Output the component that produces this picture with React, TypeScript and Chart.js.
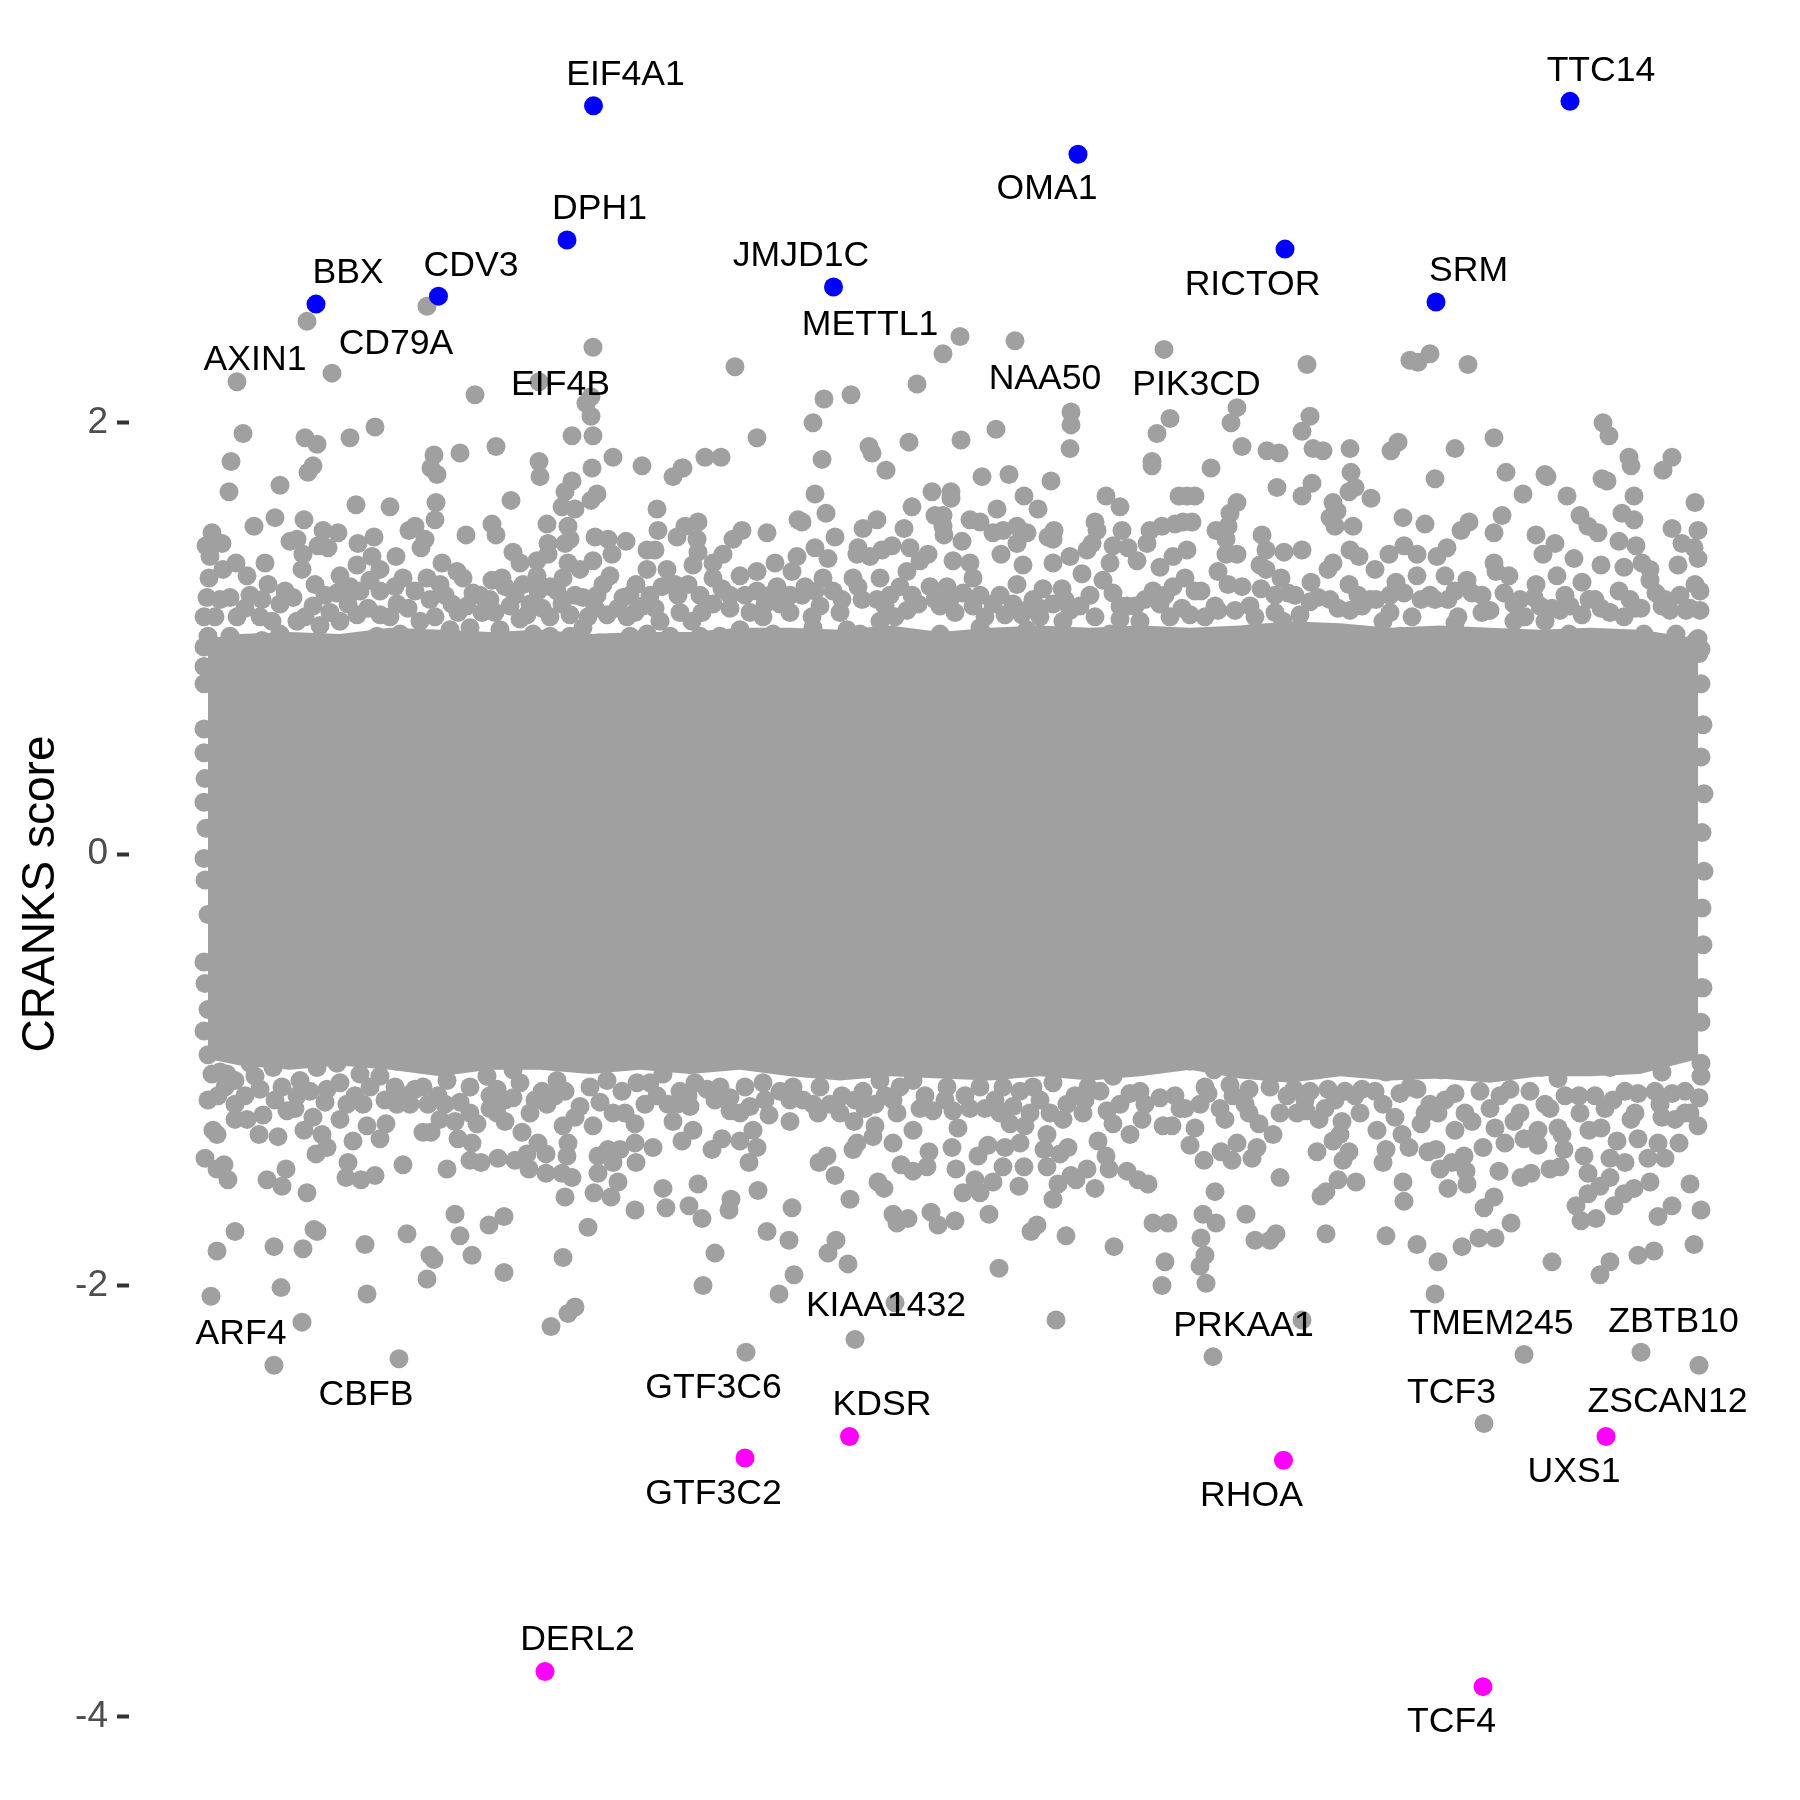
import React, { useEffect, useRef } from "react";
import { Chart, registerables } from "chart.js";

Chart.register(...registerables);

// Highlighted genes (rank on the unlabelled x axis, CRANKS score)
const upGenes = ["EIF4A1", "TTC14", "OMA1", "DPH1", "RICTOR", "JMJD1C", "SRM", "BBX", "CDV3"];
const upRank = [403.5, 1380, 888, 377, 1095, 643.5, 1246, 126, 248.5];
const upScore = [3.47, 3.49, 3.245, 2.847, 2.805, 2.629, 2.56, 2.55, 2.587];
const downGenes = ["KDSR", "GTF3C2", "RHOA", "UXS1", "DERL2", "TCF4"];
const downRank = [659.5, 555, 1093.5, 1416, 355, 1293];
const downScore = [-2.7, -2.8, -2.81, -2.7, -3.79, -3.86];

// The solid centre of the cloud: upper and lower envelope
const bandRank = [18,50,100,150,200,250,300,350,400,450,500,550,600,650,700,750,800,850,900,950,1000,1050,1100,1150,1200,1250,1300,1350,1400,1450,1508];
const bandTop = [1,1.02,1.03,1.02,1.05,1.04,1.03,1.04,1.02,1.03,1.03,1.05,1.05,1.04,1.06,1.03,1.05,1.06,1.05,1.06,1.05,1.06,1.08,1.07,1.05,1.06,1.05,1.04,1.05,1.04,1];
const bandBottom = [-.95,-.98,-1,-.98,-1,-1.03,-1,-1,-1.02,-1,-1.02,-1,-1.03,-1.05,-1.03,-1.04,-1.05,-1.03,-1.05,-1.03,-1,-1.04,-1.06,-1.03,-1.05,-1.04,-1.06,-1.03,-1.03,-1.02,-.95];

// Individually readable grey genes: [rank, score]
const edgeGenes = [
  [14,.87],[14,.79],[14,.58],[14,.47],[15,.35],[14,.24],[16,.12],[14,-.02],[15,-.12],[18,-.28],[14,-.5],[15,-.6],[18,-.72],[14,-.82],[14,.96],
  [1511,.95],[1508,1],[1511,.79],[1513,.6],[1511,.45],[1514,.28],[1512,.1],[1514,-.08],[1512,-.25],[1513,-.42],[1511,-.62],[1294,-2.64],
];
const upperRim = [
  [25,1.1],[55,1.14],[82,1.08],[115,1.1],[135,1.2],[158,1.16],[178,1.14],[200,1.1],[218,1.14],[245,1.1],[255,1.2],[268,1.12],[292,1.12],[330,1.09],[352,1.14],[372,1.16],[398,1.1],[428,1.14],[445,1.12],[465,1.14],[490,1.12],[488,1.2],[512,1.12],[540,1.14],[560,1.12],[580,1.2],[600,1.12],[612,1.2],[622,1.1],[650,1.12],[672,1.18],[700,1.2],[705,1.1],[728,1.16],[750,1.15],[765,1.12],[795,1.1],[815,1.11],[832,1.11],[850,1.1],[880,1.13],[905,1.1],[930,1.09],[945,1.15],[970,1.16],[992,1.14],[1015,1.1],[1045,1.13],[1065,1.1],[1085,1.12],[1110,1.11],[1148,1.14],[1172,1.15],[1200,1.12],[1222,1.1],[1245,1.18],[1268,1.1],[1292,1.12],[1335,1.1],[1362,1.14],[1380,1.15],[1420,1.12],[1445,1.14],[1480,1.13],[1500,1.14],
  [30,1.18],[72,1.18],[95,1.22],[125,1.25],[140,1.12],[160,1.24],[180,1.27],[205,1.24],[225,1.22],[250,1.25],[262,1.16],[290,1.2],[305,1.12],[325,1.2],[340,1.16],[360,1.24],[385,1.2],[405,1.14],[440,1.2],[460,1.2],[485,1.25],[510,1.2],[540,1.2],[555,1.2],[575,1.16],[600,1.2],[625,1.22],[652,1.18],[668,1.24],[695,1.15],[722,1.2],[745,1.18],[760,1.18],[790,1.2],[810,1.2],[835,1.13],[850,1.14],[875,1.18],[900,1.2],[930,1.15],[955,1.18],[975,1.2],[1005,1.22],[1025,1.15],[1060,1.15],[1085,1.2],[1105,1.2],[1120,1.17],[1140,1.18],[1168,1.2],[1180,1.18],[1200,1.2],[1240,1.2],[1265,1.22],[1292,1.2],[1330,1.18],[1350,1.15],[1375,1.2],[1405,1.18],[1440,1.18],[1475,1.18],[1490,1.2],[1505,1.25],
];
const lowerRim = [
  [22,-1.02],[45,-1.05],[65,-1.03],[92,-1.08],[120,-1.1],[150,-1.06],[180,-1.08],[205,-1.08],[225,-1.09],[248,-1.12],[280,-1.08],[300,-1.12],[330,-1.06],[352,-1.1],[375,-1.1],[400,-1.08],[432,-1.1],[460,-1.06],[490,-1.1],[505,-1.06],[530,-1.08],[555,-1.08],[590,-1.1],[630,-1.08],[665,-1.14],[685,-1.16],[710,-1.08],[735,-1.12],[775,-1.12],[805,-1.14],[830,-1.1],[850,-1.14],[885,-1.12],[910,-1.1],[950,-1.1],[1015,-1.08],[1040,-1.07],[1080,-1.08],[1120,-1.1],[1155,-1.1],[1185,-1.1],[1220,-1.08],[1240,-1.16],[1290,-1.1],[1310,-1.12],[1340,-1.1],[1375,-1.12],[1405,-1.12],[1435,-1.1],[1465,-1.1],[1495,-1.1],[1500,-1.2],
  [28,-1.12],[55,-1.12],[85,-1.14],[105,-1.18],[135,-1.15],[165,-1.12],[195,-1.14],[215,-1.12],[255,-1.16],[280,-1.2],[300,-1.18],[315,-1.14],[345,-1.14],[365,-1.12],[385,-1.22],[410,-1.15],[435,-1.2],[455,-1.16],[478,-1.16],[498,-1.12],[525,-1.14],[550,-1.2],[575,-1.14],[600,-1.14],[628,-1.2],[650,-1.2],[675,-1.18],[695,-1.12],[730,-1.18],[755,-1.14],[780,-1.18],[810,-1.2],[840,-1.2],[860,-1.2],[895,-1.14],[930,-1.16],[955,-1.16],[985,-1.12],[1010,-1.16],[1030,-1.18],[1055,-1.16],[1090,-1.2],[1115,-1.14],[1135,-1.18],[1170,-1.2],[1205,-1.22],[1235,-1.2],[1255,-1.14],[1275,-1.2],[1300,-1.18],[1330,-1.2],[1360,-1.18],[1390,-1.2],[1415,-1.18],[1445,-1.2],[1470,-1.16],[1495,-1.2],
];
const upperLeft = [
  [117,2.47],[237,2.54],[47,2.19],[142,2.23],[285,2.13],[403,2.35],[349,2.19],[401,2.12],[396,2.09],[401,2.03],[382,1.94],[403,1.94],[53,1.95],[115,1.93],[127,1.9],[160,1.93],[185,1.98],[41,1.82],[123,1.8],[118,1.77],[244,1.85],[241,1.79],[247,1.76],[270,1.86],[306,1.89],[349,1.82],[350,1.75],[423,1.84],[402,1.79],[452,1.8],[483,1.75],[493,1.79],[39,1.68],[90,1.71],[166,1.62],[200,1.61],[246,1.63],[245,1.55],[321,1.64],[382,1.73],[375,1.68],[372,1.61],[385,1.6],[407,1.67],[401,1.64],[467,1.6],[468,1.5],[487,1.47],[64,1.52],[85,1.56],[114,1.55],[22,1.49],[16,1.43],[32,1.44],[20,1.38],[100,1.45],[107,1.46],[133,1.5],[148,1.49],[128,1.43],[138,1.42],[168,1.44],[184,1.47],[219,1.5],[225,1.52],[235,1.46],[231,1.42],[276,1.48],[302,1.53],[306,1.48],[357,1.53],[378,1.52],[380,1.46],[358,1.44],[375,1.44],[405,1.47],[418,1.46],[436,1.45],[422,1.39],[457,1.41],[465,1.41],[113,1.39],[182,1.38],[206,1.38],[323,1.4],[330,1.35],[347,1.36],[358,1.39],[378,1.35],[403,1.36],[46,1.35],[33,1.32],[75,1.35],[252,1.35],[19,1.28],[57,1.29],[112,1.32],[78,1.25],[150,1.29],[167,1.34],[190,1.32],[213,1.28],[237,1.28],[267,1.31],[273,1.28],[302,1.27],[312,1.28],[315,1.24],[333,1.25],[348,1.22],[347,1.29],[367,1.22],[373,1.28],[390,1.32],[420,1.29],[413,1.25],[393,1.19],[407,1.2],[433,1.19],[446,1.25],[457,1.32],[477,1.32],[453,1.15],[472,1.24],
  [17,1.19],[14,1.1],[18,1.01],[40,1.19],[60,1.2],[47,1.1],[70,1.1],[40,1.01],[90,1.16],[103,1.19],[107,1.08],[90,1.02],[72,.99],[123,1.15],[130,1.06],[120,.96],[147,1.21],[170,1.22],[190,1.22],[167,1.11],[150,1.08],[190,1.11],[207,1.16],[187,1.01],[210,1.02],[230,1.08],[240,1.18],[260,1.04],[277,1.15],[283,1.21],[280,1.05],[300,1.18],[320,1.15],[337,1.11],[310,1.04],[343,1.02],[360,1.1],[380,1.11],[360,1.01],[380,1.01],[417,1.11],[437,1.1],[410,.98],[393,1.05],[420,.98],[440,1.01],[470,1.08],[457,1.02],[480,1.01],
];
const upperMiddle = [
  [545,2.26],[770,2.4],[753,2.32],[727,2.18],[825,2.38],[974,2.34],[634,2.11],[661,2.13],[881,2.05],[881,1.99],[880,1.88],[980,2.02],[967,1.95],[962,1.82],[962,1.8],[623,2],[567,1.93],[632,1.83],[679,1.89],[682,1.86],[696,1.78],[719,1.91],[771,1.92],[806,1.97],[792,1.75],[819,1.76],[861,1.73],[515,1.84],[531,1.84],[492,1.79],[625,1.67],[636,1.58],[742,1.68],[761,1.68],[761,1.65],[722,1.61],[834,1.66],[848,1.6],[807,1.6],[916,1.66],[930,1.61],[989,1.66],[508,1.54],[495,1.52],[552,1.5],[543,1.46],[577,1.49],[608,1.55],[612,1.54],[687,1.55],[673,1.51],[714,1.51],[745,1.57],[753,1.57],[753,1.52],[754,1.48],[780,1.55],[790,1.54],[772,1.45],[803,1.49],[813,1.5],[827,1.52],[837,1.49],[827,1.44],[864,1.5],[858,1.47],[863,1.46],[905,1.54],[907,1.5],[902,1.44],[932,1.5],[923,1.43],[938,1.42],[960,1.5],[972,1.52],[985,1.53],[957,1.44],[947,1.36],[920,1.35],[970,1.33],[983,1.38],[507,1.46],[508,1.4],[503,1.34],[523,1.35],[533,1.39],[567,1.31],[585,1.35],[607,1.38],[625,1.42],[645,1.47],[638,1.37],[615,1.24],[602,1.31],[668,1.42],[667,1.39],[680,1.38],[692,1.41],[702,1.43],[720,1.42],[738,1.39],[730,1.36],[763,1.36],[780,1.35],[783,1.28],[811,1.39],[833,1.34],[863,1.35],[880,1.38],[892,1.3],[897,1.41],[913,1.27],[827,1.25],[853,1.23],[872,1.23],[523,1.28],[532,1.23],[498,1.25],[523,1.16],[550,1.29],[567,1.22],[587,1.24],[590,1.16],[573,1.1],[633,1.28],[643,1.22],[630,1.15],[663,1.28],[690,1.28],[687,1.18],[690,1.08],[710,1.24],[717,1.31],[717,1.13],[740,1.24],[757,1.24],[773,1.21],[783,1.15],[803,1.16],[823,1.16],[843,1.18],[863,1.16],[890,1.15],[923,1.21],[937,1.15],[963,1.22],[983,1.24],[980,1.1],[502,1.08],[510,1.01],[530,1.01],[550,1.04],[583,1.02],[623,1.05],[657,1.04],[670,1.02],[697,.96],[750,1.02],[790,1.05],[837,1.04],[873,1.08],[920,1.02],[950,1.08],[963,.99],
];
const upperRight = [
  [1117,2.27],[1220,2.29],[1228,2.28],[1240,2.32],[1278,2.27],[1047,2.07],[1041,2],[1120,2.03],[1112,1.96],[1052,1.89],[1123,1.88],[1133,1.87],[1160,1.88],[1077,1.87],[1089,1.86],[1021,1.79],[1208,1.91],[1201,1.87],[1265,1.88],[1304,1.93],[1413,2],[1419,1.94],[1439,1.84],[1441,1.8],[1482,1.84],[1473,1.78],[1245,1.74],[1316,1.77],[1355,1.76],[1357,1.75],[1412,1.74],[1417,1.73],[1444,1.66],[1505,1.63],[1377,1.66],[1333,1.67],[1087,1.7],[1122,1.72],[1112,1.66],[1161,1.77],[1165,1.7],[1159,1.68],[1181,1.65],[1143,1.63],[1147,1.59],[997,1.66],[1005,1.66],[1047,1.63],[1040,1.58],[1002,1.54],[993,1.54],[1140,1.56],[1145,1.52],[1163,1.52],[1213,1.56],[1235,1.53],[1279,1.54],[1271,1.5],[1312,1.57],[1304,1.49],[1390,1.57],[1398,1.52],[1408,1.49],[1432,1.58],[1444,1.55],[1482,1.51],[1508,1.5],[1346,1.48],[1365,1.44],[1353,1.39],[1384,1.37],[1429,1.45],[1446,1.43],[1492,1.44],[1504,1.42],[1508,1.37],[1488,1.34],[1026,1.5],[1038,1.52],[1036,1.46],[1072,1.48],[1076,1.41],[1094,1.4],[1112,1.41],[1047,1.39],[1036,1.39],[997,1.41],[1070,1.34],[1076,1.32],[1091,1.28],[1028,1.31],[995,1.28],[1160,1.41],[1143,1.35],[1138,1.32],[1169,1.38],[1185,1.32],[1199,1.39],[1214,1.43],[1227,1.39],[1257,1.42],[1247,1.38],[1227,1.29],[1206,1.26],[1255,1.29],[1277,1.27],[1304,1.35],[1306,1.31],[1319,1.29],[1411,1.34],[1434,1.33],[1452,1.35],[1460,1.32],[1367,1.29],[1346,1.25],[1392,1.26],[1460,1.27],[1429,1.22],[1510,1.22],[1466,1.21],[1370,1.13],[1121,1.26],[1159,1.25],[1186,1.18],[1193,1.08],[1011,1.22],[1038,1.25],[1052,1.24],[1071,1.23],[1098,1.21],[1128,1.19],[1160,1.13],[1214,1.21],[1231,1.18],[1258,1.18],[1282,1.21],[1300,1.13],[1314,1.21],[1324,1.16],[1324,1.08],[1344,1.19],[1355,1.08],[1399,1.18],[1392,1.11],[1411,1.14],[1434,1.1],[1451,1.14],[1472,1.15],[1496,1.13],[1510,1.13],[1486,1.02],[1506,.99],[1509,.93],[1454,1.02],[1379,1.02],[1210,1.01],[1138,1.02],[1000,1.11],[1028,1.13],[1059,1.02],[1093,1.08],[1265,1.07],[1021,.99],
];
const lowerLeft = [
  [18,-.93],[23,-1.28],[27,-1.3],[15,-1.41],[34,-1.44],[27,-1.46],[38,-1.51],[69,-1.3],[88,-1.31],[77,-1.51],[96,-1.46],[92,-1.54],[117,-1.57],[114,-1.28],[123,-1.22],[132,-1.3],[137,-1.36],[126,-1.39],[158,-1.43],[156,-1.5],[171,-1.51],[185,-1.49],[213,-1.44],[257,-1.46],[190,-1.32],[196,-1.25],[163,-1.33],[233,-1.29],[241,-1.29],[280,-1.42],[291,-1.43],[308,-1.41],[325,-1.42],[339,-1.46],[356,-1.48],[372,-1.48],[382,-1.5],[375,-1.59],[404,-1.57],[421,-1.59],[428,-1.52],[408,-1.48],[423,-1.43],[446,-1.43],[473,-1.55],[476,-1.64],[445,-1.65],[398,-1.73],[373,-1.87],[265,-1.67],[314,-1.68],[299,-1.72],[270,-1.77],[217,-1.76],[45,-1.75],[27,-1.84],[84,-1.82],[113,-1.83],[124,-1.74],[127,-1.75],[175,-1.81],[240,-1.86],[244,-1.88],[282,-1.86],[237,-1.97],[314,-1.94],[21,-2.05],[91,-2.01],[177,-2.04],[112,-2.17],[385,-2.1],[378,-2.13],[361,-2.19],[84,-2.37],[209,-2.34],
  [27,-.85],[53,-.89],[37,-1.02],[30,-1.01],[60,-.97],[83,-.99],[18,-1.14],[35,-1.08],[70,-1.09],[45,-1.16],[45,-1.23],[57,-1.23],[73,-1.21],[97,-1.19],[107,-1.12],[110,-1.05],[127,-.99],[137,-1.09],[147,-.97],[170,-1.02],[190,-1.03],[157,-1.16],[173,-1.16],[150,-1.23],[177,-1.26],[207,-1.16],[220,-1.16],[238,-1.16],[270,-1.15],[250,-1.23],[265,-1.24],[287,-1.25],[268,-1.32],[282,-1.34],[297,-1.03],[307,-1.09],[323,-1.13],[307,-1.2],[315,-1.24],[332,-1.29],[340,-1.2],[348,-1.34],[356,-1.39],[337,-1.39],[373,-1.26],[378,-1.34],[377,-1.4],[357,-1.16],[390,-1.17],[403,-1.26],[408,-1.4],[418,-1.37],[430,-1.37],[417,-1.05],[445,-1.25],[445,-1.34],[463,-1.36],[467,-1.12],[487,-1.16],[483,-1.24],[447,-1.06],[423,-1.2],[207,-.96],[233,-1.08],[257,-1.05],[367,-1.05],[383,-.92],[473,-1.02],[323,-1],
];
const lowerMiddle = [
  [600,-1.24],[579,-1.21],[560,-1.17],[540,-1.19],[563,-1.28],[550,-1.33],[567,-1.36],[559,-1.43],[522,-1.37],[532,-1.32],[503,-1.28],[492,-1.33],[508,-1.53],[499,-1.63],[512,-1.69],[541,-1.6],[539,-1.65],[568,-1.56],[602,-1.64],[577,-1.75],[599,-1.79],[525,-1.85],[513,-2],[589,-2.04],[604,-1.95],[638,-1.85],[646,-1.79],[658,-1.9],[660,-1.6],[645,-1.49],[629,-1.43],[637,-1.4],[664,-1.24],[667,-1.34],[663,-1.37],[685,-1.26],[683,-1.31],[703,-1.34],[688,-1.52],[694,-1.55],[703,-1.67],[707,-1.71],[718,-1.69],[741,-1.66],[748,-1.72],[765,-1.7],[799,-1.67],[809,-1.92],[841,-1.75],[847,-1.72],[876,-1.77],[924,-1.82],[963,-1.71],[978,-1.71],[975,-1.89],[972,-2],[866,-2.16],[705,-2.08],[665,-2.25],[556,-2.31],[711,-1.44],[723,-1.47],[737,-1.45],[739,-1.38],[766,-1.46],[773,-1.57],[790,-1.57],[785,-1.51],[803,-1.52],[813,-1.45],[788,-1.4],[798,-1.35],[815,-1.36],[830,-1.34],[834,-1.45],[829,-1.54],[857,-1.45],[854,-1.37],[870,-1.39],[868,-1.53],[863,-1.6],[881,-1.49],[886,-1.51],[897,-1.46],[905,-1.55],[919,-1.46],[916,-1.4],[937,-1.47],[948,-1.51],[958,-1.53],[857,-1.3],[878,-1.36],[908,-1.33],[940,-1.3],[952,-1.23],[973,-1.26],[982,-1.26],[762,-1.36],[768,-1.27],[763,-1.19],[723,-1.28],[743,-1.19],[707,-1.2],[823,-1.17],[820,-1.25],[835,-1.26],[795,-1.18],[877,-1.16],[893,-1.2],[917,-1.19],[923,-1.25],[873,-1.23],[603,-1.08],[613,-1.14],[623,-1.16],[640,-1.16],[652,-1.12],[673,-1.1],[690,-1.05],[723,-1.05],[757,-1.08],[790,-1.08],[813,-1.08],[843,-1.08],[863,-1.06],[898,-1.08],[923,-1.03],[970,-1.13],[990,-1.18],[940,-1.11],[573,-1.06],[540,-1.13],[517,-1.09],[500,-1.17],[703,-1.14],
];
const lowerRight = [
  [1025,-1.565],[1013,-1.67],[1026,-1.71],[1011,-1.78],[1015,-1.86],[1010,-1.91],[1016,-1.99],[1056,-1.67],[1065,-1.79],[1080,-1.79],[1086,-1.76],[1090,-1.5],[1136,-1.76],[1131,-1.585],[1136,-1.565],[1148,-1.51],[1166,-1.52],[1196,-1.77],[1213,-1.52],[1214,-1.61],[1227,-1.81],[1248,-1.89],[1245,-2.04],[1272,-1.82],[1289,-1.78],[1305,-1.78],[1321,-1.71],[1294,-1.64],[1304,-1.59],[1258,-1.55],[1277,-1.53],[1362,-1.89],[1420,-1.89],[1410,-1.95],[1448,-1.86],[1464,-1.84],[1504,-1.81],[1511,-1.65],[1468,-1.68],[1482,-1.63],[1500,-1.53],[1424,-1.63],[1434,-1.575],[1444,-1.55],[1460,-1.52],[1391,-1.7],[1406,-1.69],[1386,-1.63],[1398,-1.575],[1410,-1.54],[1420,-1.5],[1112,-2.16],[1023,-2.33],[1334,-2.32],[1451,-2.31],[1509,-2.37],[1309,-1.47],[1331,-1.5],[1341,-1.48],[1360,-1.46],[1370,-1.45],[1368,-1.27],[1374,-1.37],[1398,-1.48],[1394,-1.4],[1399,-1.28],[1411,-1.27],[1427,-1.33],[1420,-1.41],[1435,-1.43],[1458,-1.41],[1475,-1.41],[1468,-1.34],[1489,-1.34],[1448,-1.32],[1508,-1.26],[1485,-1.23],[1441,-1.23],[1472,-1.22],[1315,-1.34],[1334,-1.32],[1348,-1.35],[1372,-1.3],[1293,-1.36],[1274,-1.4],[1276,-1.47],[1250,-1.46],[1262,-1.43],[1238,-1.38],[1246,-1.37],[1219,-1.36],[1212,-1.3],[1196,-1.37],[1193,-1.43],[1187,-1.28],[1265,-1.28],[1153,-1.42],[1159,-1.38],[1143,-1.33],[1152,-1.24],[1150,-1.3],[1127,-1.38],[1129,-1.23],[1116,-1.19],[1107,-1.2],[1042,-1.42],[1062,-1.41],[1067,-1.36],[1047,-1.34],[1031,-1.38],[1014,-1.42],[1000,-1.35],[1005,-1.27],[1035,-1.23],[1018,-1.11],[995,-1.18],[1043,-1.12],[1059,-1.2],[1083,-1.3],[1069,-1.25],[1097,-1.12],[1145,-1.14],[1165,-1.12],[1193,-1.16],[1210,-1.11],[1231,-1.25],[1248,-1.2],[1282,-1.24],[1305,-1.27],[1324,-1.24],[1348,-1.28],[1355,-1.16],[1389,-1.12],[1423,-1.14],[1448,-1.11],[1482,-1.11],[1509,-1.13],[1511,-1.03],[1511,-.97],[1511,-.78],[1513,-.62],[1368,-1.04],[1320,-1.09],[1265,-1.11],[1227,-1.09],[1172,-1.09],[1138,-1.09],[1104,-1.09],[1059,-1.09],[1024,-1],[1000,-.96],[1076,-.99],[1128,-1],[1196,-1.01],[1251,-1],[1300,-1],[1351,-.99],[1420,-.99],[1472,-1.01],[1451,-.89],
];

// Gene labels and where each sits, in axis units
const labelNames = ["EIF4A1","TTC14","OMA1","DPH1","JMJD1C","RICTOR","BBX","CDV3","SRM","METTL1","CD79A","AXIN1","EIF4B","NAA50","PIK3CD","ARF4","KIAA1432","PRKAA1","TMEM245","ZBTB10","CBFB","GTF3C6","KDSR","TCF3","ZSCAN12","GTF3C2","RHOA","UXS1","DERL2","TCF4"];
const labelRank = [435.5,1411,857,409.5,611,1062.5,158,281,1278.5,680,206,65,370.5,855,1006.5,51,696,1053.5,1301.5,1483.5,176,523.5,692,1261.5,1477.5,523.5,1061.5,1384,387.5,1261.5];
const labelScore = [3.612,3.632,3.082,2.992,2.772,2.637,2.692,2.727,2.702,2.452,2.362,2.292,2.172,2.202,2.172,-2.228,-2.098,-2.188,-2.178,-2.168,-2.508,-2.478,-2.553,-2.498,-2.543,-2.968,-2.978,-2.868,-3.643,-4.023];

const yTicks = [-4, -2, 0, 2];
const yTitle = "CRANKS score";

const FONT = '"Liberation Sans", Arial, sans-serif';

const geneLabelPlugin = {
  id: "geneLabels",
  afterDatasetsDraw(chart: any) {
    const { ctx, scales } = chart;
    ctx.save();
    ctx.font = `35.6px ${FONT}`;
    ctx.fillStyle = "#000000";
    ctx.textAlign = "center";
    ctx.textBaseline = "middle";
    labelNames.forEach((name, i) => {
      ctx.fillText(name, scales.x.getPixelForValue(labelRank[i]), scales.y.getPixelForValue(labelScore[i]));
    });
    ctx.restore();
  },
};

const toPoints = (pairs: number[][]) => pairs.map(([x, y]) => ({ x, y }));
const zipPoints = (xs: number[], ys: number[]) => xs.map((x, i) => ({ x, y: ys[i] }));

export default function App() {
  const ref = useRef<HTMLCanvasElement>(null);
  useEffect(() => {
    const grey = "#a0a0a0";
    const dot = { pointRadius: 9.5, pointBorderWidth: 0, showLine: false, clip: false };
    const chart = new Chart(ref.current!, {
      type: "scatter",
      data: {
        datasets: [
          { label: "up", data: zipPoints(upRank, upScore), pointBackgroundColor: "#0000ff", order: 0, ...dot },
          { label: "down", data: zipPoints(downRank, downScore), pointBackgroundColor: "#ff00ff", order: 0, ...dot },
          {
            label: "grey",
            data: toPoints([...edgeGenes, ...upperRim, ...lowerRim, ...upperLeft, ...upperMiddle, ...upperRight, ...lowerLeft, ...lowerMiddle, ...lowerRight]),
            pointBackgroundColor: grey,
            order: 1,
            ...dot,
          },
          {
            label: "cloud top",
            data: zipPoints(bandRank, bandTop),
            showLine: true,
            pointRadius: 0,
            borderWidth: 0,
            borderColor: grey,
            backgroundColor: grey,
            fill: "+1",
            order: 2,
          },
          {
            label: "cloud bottom",
            data: zipPoints(bandRank, bandBottom),
            showLine: true,
            pointRadius: 0,
            borderWidth: 0,
            borderColor: grey,
            order: 2,
          },
        ],
      } as any,
      options: {
        animation: false,
        responsive: false,
        events: [],
        layout: { autoPadding: false, padding: { left: 0, right: 0, top: 0, bottom: 12 } },
        plugins: { legend: { display: false }, tooltip: { enabled: false } },
        scales: {
          x: { type: "linear", display: false, min: -61, max: 1610 },
          y: {
            type: "linear",
            min: -4.33,
            max: 3.96,
            afterFit: (scale: any) => {
              scale.width = 129;
              scale.paddingTop = 0;
              scale.paddingBottom = 0;
            },
            afterBuildTicks: (scale: any) => {
              scale.ticks = yTicks.map((value) => ({ value }));
            },
            border: { display: false },
            grid: { drawOnChartArea: false, drawTicks: true, tickLength: 12, tickWidth: 4, tickColor: "#333333" },
            ticks: {
              color: "#4d4d4d",
              padding: 9,
              font: { family: FONT, size: 37 },
            },
            title: {
              display: true,
              text: yTitle,
              color: "#000000",
              font: { family: FONT, size: 46 },
              padding: { top: 14, bottom: 0 },
            },
          },
        },
      } as any,
      plugins: [geneLabelPlugin],
    });
    return () => chart.destroy();
  }, []);
  return (
    <div style={{ position: "absolute", left: 0, top: 0 }}>
      <canvas ref={ref} width={1800} height={1800} style={{ display: "block" }} />
    </div>
  );
}
